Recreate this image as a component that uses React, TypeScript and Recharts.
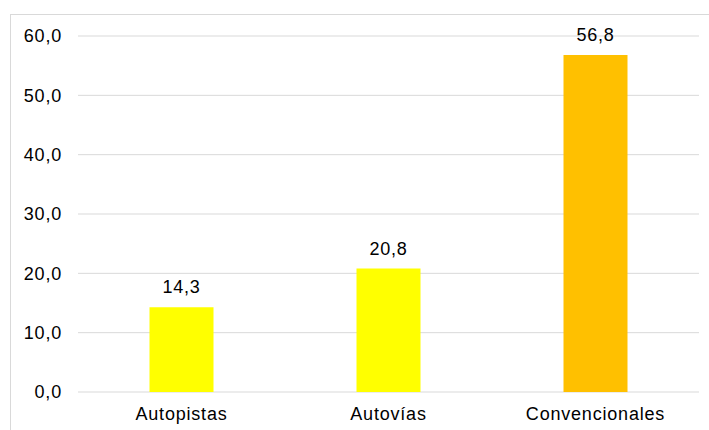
import React from "react";
import { BarChart, Bar, XAxis, YAxis, CartesianGrid, LabelList, Cell } from "recharts";

const categories = ["Autopistas", "Autovías", "Convencionales"];
const values = [14.3, 20.8, 56.8];
const barColors = ["#FFFF00", "#FFFF00", "#FFC000"];
const yTicks = [0, 10, 20, 30, 40, 50, 60];

const data = categories.map((name, i) => ({ name, value: values[i] }));
const fmt = (v: number) => v.toFixed(1).replace(".", ",");
const font = "'Liberation Sans', Arial, sans-serif";
const textStyle = { fill: "#000", fontSize: 18, fontFamily: font, letterSpacing: 0.8 };

export default function App() {
  return (
    <div style={{ position: "fixed", left: 0, top: 0, width: 709, height: 430, overflow: "hidden", background: "#fff" }}>
      <div style={{ position: "absolute", left: 10, top: 14, width: 760, height: 480, border: "1px solid #d9d9d9" }} />
      <div style={{ position: "absolute", left: 0, top: 0 }}>
        <BarChart width={709} height={430} data={data} margin={{ top: 36, right: 10, bottom: 8, left: 10 }} barCategoryGap={71.5}>
          <CartesianGrid vertical={false} stroke="#d9d9d9" strokeWidth={1} />
          <XAxis
            dataKey="name"
            height={30}
            axisLine={false}
            tickLine={false}
            tickSize={0}
            tickMargin={15}
            tick={textStyle}
          />
          <YAxis
            width={68}
            domain={[0, 60]}
            ticks={yTicks}
            axisLine={false}
            tickLine={false}
            tickSize={0}
            tickMargin={16}
            tickFormatter={fmt}
            tick={textStyle}
          />
          <Bar dataKey="value" isAnimationActive={false}>
            {data.map((d, i) => (
              <Cell key={d.name} fill={barColors[i]} />
            ))}
            <LabelList dataKey="value" position="top" offset={14} formatter={(v: any) => fmt(Number(v))} style={textStyle} />
          </Bar>
        </BarChart>
      </div>
    </div>
  );
}
